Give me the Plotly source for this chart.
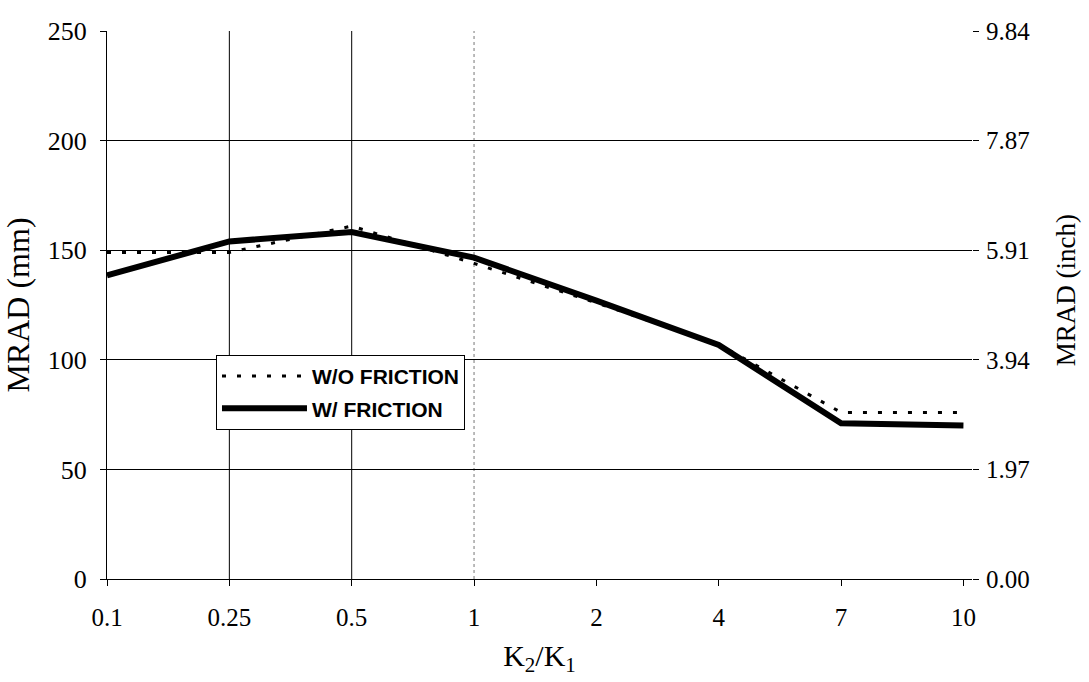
import plotly.graph_objects as go

categories = ["0.1", "0.25", "0.5", "1", "2", "4", "7", "10"]
wo_friction = [149, 149, 161, 144, 126, 107, 76, 76]
w_friction = [138.5, 154, 158.3, 146.6, 127, 106.8, 71, 70]
y_ticks_mm = [0, 50, 100, 150, 200, 250]
y_ticks_inch = ["0.00", "1.97", "3.94", "5.91", "7.87", "9.84"]

xpos = list(range(len(categories)))

fig = go.Figure()
fig.add_trace(go.Scatter(x=xpos, y=wo_friction, mode="lines", name="W/O FRICTION",
                         legendgroup="a",
                         line=dict(color="black", width=3, dash="4px,11px")))
fig.add_trace(go.Scatter(x=xpos, y=w_friction, mode="lines", name="W/ FRICTION",
                         legendgroup="b",
                         line=dict(color="black", width=6)))
# dummy trace for right axis
fig.add_trace(go.Scatter(x=[None], y=[None], yaxis="y2", showlegend=False))

serif = "Liberation Serif, Times New Roman, serif"

fig.update_layout(
    width=1089, height=682,
    margin=dict(l=107, r=117, t=31, b=103),
    plot_bgcolor="white", paper_bgcolor="white",
    font=dict(family=serif, color="black", size=25),
    showlegend=True,
    legend=dict(x=0.126, y=0.409, xanchor="left", yanchor="top",
                bordercolor="black", borderwidth=1, bgcolor="white",
                font=dict(family="Liberation Sans, Arial, sans-serif", size=21, color="black",
                          weight="bold"),
                tracegroupgap=2, itemwidth=85),
    xaxis=dict(range=[0, 7.07], tickvals=xpos, ticktext=categories,
               showgrid=False, zeroline=False, showline=True, linecolor="black", linewidth=1,
               ticks="outside", ticklen=6, tickcolor="black", ticklabelstandoff=10,
               title=dict(text="K<sub>2</sub>/K<sub>1</sub>", font=dict(size=30), standoff=14),
               tickfont=dict(size=25)),
    yaxis=dict(range=[0, 250], tickvals=y_ticks_mm, showgrid=True, gridcolor="black", gridwidth=1,
               zeroline=False, showline=True, linecolor="black", linewidth=1,
               ticks="outside", ticklen=6, tickcolor="black", ticklabelstandoff=8,
               title=dict(text="MRAD (mm)", font=dict(size=32), standoff=14),
               tickfont=dict(size=26)),
    yaxis2=dict(range=[0, 250], overlaying="y", side="right", tickvals=y_ticks_mm,
                ticktext=y_ticks_inch, showgrid=False, zeroline=False, showline=False,
                ticks="outside", ticklen=6, tickcolor="black", ticklabelstandoff=2,
                tickfont=dict(size=25)),
    annotations=[dict(text="MRAD (inch)", xref="paper", yref="paper", x=1.1087, y=0.527,
                      textangle=-90, showarrow=False, xanchor="center", yanchor="middle",
                      font=dict(size=27, family=serif, color="black"))],
)

# vertical gridlines present in the reference
for cat, dash, col in [("0.25", "solid", "black"), ("0.5", "solid", "black"), ("1", "dot", "#777777")]:
    xi = categories.index(cat)
    fig.add_shape(type="line", xref="x", yref="paper", x0=xi, x1=xi, y0=0, y1=1,
                  line=dict(color=col, width=1, dash=dash), layer="below")

fig.write_html("out.html")
